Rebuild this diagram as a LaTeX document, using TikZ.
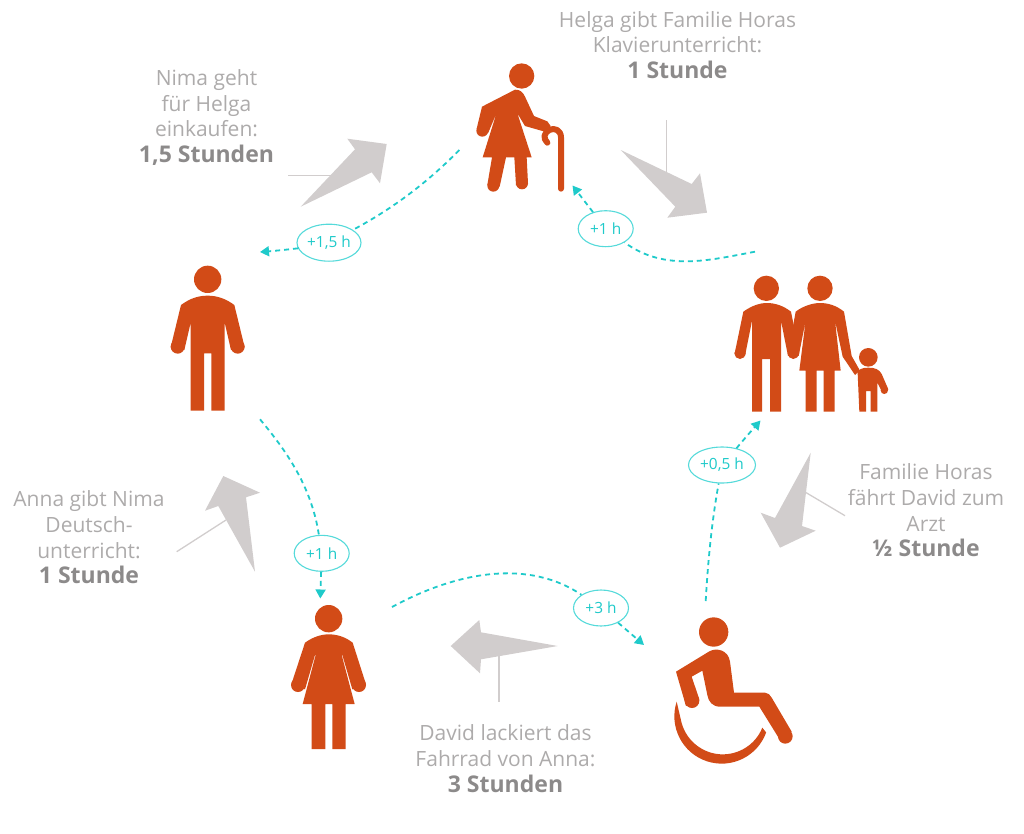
\documentclass[tikz,border=0pt]{standalone}
\usepackage{fontspec}
\setmainfont{Open Sans}
\definecolor{figc}{HTML}{D24B17}
\definecolor{teal}{HTML}{1FCACA}
\definecolor{teall}{HTML}{55DADA}
\definecolor{arrowg}{HTML}{D1CDCD}
\definecolor{txtg}{HTML}{ADABAB}
\definecolor{txtb}{HTML}{8C8A8A}
\usetikzlibrary{shapes.geometric,arrows.meta}
\tikzset{
 figf/.style={fill=figc,draw=none},
 fatarrow/.style={fill=arrowg,draw=none},
 leader/.style={draw=arrowg,line width=1.3pt},
 flow/.style={draw=teal,line width=1.8pt,dash pattern=on 5pt off 4pt},
 flowtip/.style={flow,-{Triangle[length=9pt,width=10pt,fill=teal]}},
 hbubble/.style={ellipse,draw=teall,line width=1.1pt,fill=white,inner sep=0pt,text=teal,font=\fontsize{15.4}{15.4}\selectfont},
 say/.style={align=center,text=txtg,font=\fontsize{21}{25.7}\selectfont,inner sep=0pt},
}
\newcommand{\bfline}[1]{{\fontsize{23}{25.7}\selectfont\bfseries\color{txtb}#1}}
\begin{document}
\begin{tikzpicture}[x=1pt,y=-1pt]
\useasboundingbox (0,0) rectangle (1024,833);
% ---- leaders
\coordinate (l1a) at (288,175.7); \coordinate (l1b) at (332,175.7);
\coordinate (l2a) at (666.3,120); \coordinate (l2b) at (666.3,172);
\coordinate (l3a) at (845,515.7); \coordinate (l3b) at (805,492);
\coordinate (l4a) at (499,701.7); \coordinate (l4b) at (499,656);
\coordinate (l5a) at (176.7,551.7); \coordinate (l5b) at (226,520);
\draw[leader] (l1a)--(l1b); \draw[leader] (l2a)--(l2b); \draw[leader] (l3a)--(l3b);
\draw[leader] (l4a)--(l4b); \draw[leader] (l5a)--(l5b);
% ---- fat arrows
\fill[fatarrow] (300.7,206.7)--(371.7,172.3)--(380,183.3)--(386.7,144)--(347.3,138.7)--(355,149.3)--cycle;
\fill[fatarrow] (620.7,150)--(691.7,184)--(700,173.3)--(707,212.7)--(667.3,217.7)--(675.3,206.7)--cycle;
\fill[fatarrow] (810.7,452.7)--(802,526)--(815.7,530.7)--(780,547.7)--(760.7,512.7)--(775,518)--cycle;
\fill[fatarrow] (557.7,646)--(481,659.3)--(480,673.3)--(450.7,646)--(479.3,620)--(481,632.3)--cycle;
\fill[fatarrow] (255,571.7)--(246,497.3)--(260,492.7)--(223.3,476)--(205,510.7)--(218.3,506)--cycle;
% ---- man (Nima)
\begin{scope}[shift={(150,250)},scale=1/3]
\fill[figf] (173,88) circle (41);
\fill[figf] (93,165) .. controls (120,145) and (145,137) .. (173,137) .. controls (200,137) and (226,145) .. (253,165)
  -- (284,292) -- (243,300) -- (224,218) -- (224,482) -- (184,482) -- (184,310) -- (162,310) -- (162,482) -- (122,482) -- (122,218) -- (103,300) -- (62,292) -- cycle;
\fill[figf] (263,290) circle (21); \fill[figf] (83,290) circle (21);
\end{scope}
% ---- woman (Anna)
\begin{scope}[shift={(150,250)},scale=1/3]
\fill[figf] (536,1106) circle (41);
\fill[figf] (465,1178) .. controls (490,1160) and (515,1153) .. (536,1153) .. controls (560,1153) and (585,1160) .. (608,1178)
  -- (648,1303) -- (607,1318) -- (577,1215) -- (575,1215) -- (614,1362) -- (587,1362) -- (587,1497) -- (547,1497) -- (547,1362) -- (526,1362) -- (526,1497) -- (485,1497) -- (485,1362) -- (458,1362) -- (497,1215) -- (495,1215) -- (465,1318) -- (424,1303) -- cycle;
\fill[figf] (627,1305) circle (21); \fill[figf] (444,1305) circle (21);
\end{scope}
% ---- elder (Helga)
\begin{scope}[shift={(270,50)},scale=1/3]
\fill[figf] (755,78) circle (38);
\fill[figf] (735,119) .. controls (750,119) and (758,125) .. (765,140) -- (792,198) -- (832,214) -- (842,228) -- (835,248) -- (765,228) -- (742,190) -- (785,322) -- (770,322) -- (774,400) -- (738,406) -- (733,322) -- (708,322) -- (689,410) -- (652,405) -- (666,322) -- (638,322) -- (680,188) -- (655,248) -- (620,236) -- (636,170) -- cycle;
\fill[figf] (637,242) circle (18); \fill[figf] (670,407) circle (18); \fill[figf] (756,400) circle (18);
\draw[draw=figc,line width=6pt,line cap=round,line join=round] (873,416) -- (873,262) .. controls (873,240) and (852,232) .. (838,240) .. controls (822,248) and (818,265) .. (832,278);
\end{scope}
% ---- family
\begin{scope}[shift={(560,110)},scale=1/3]
\fill[figf] (619,535) circle (38); \fill[figf] (780,535) circle (38); \fill[figf] (925,742) circle (28);
\fill[figf] (550,605) .. controls (575,587) and (600,579) .. (620,579) .. controls (645,579) and (670,587) .. (693,605)
 -- (718,730) -- (684,738) -- (663,632) -- (663,905) -- (630,905) -- (630,747) -- (606,747) -- (606,905) -- (576,905) -- (576,632) -- (555,738) -- (524,730) -- cycle;
\fill[figf] (540,730) circle (17); \fill[figf] (700,730) circle (17);
\fill[figf] (707,605) .. controls (730,587) and (760,579) .. (780,579) .. controls (805,579) and (830,587) .. (852,605)
 -- (875,738) -- (900,782) -- (885,795) -- (848,740) -- (825,632) -- (842,782) -- (824,782) -- (824,905) -- (791,905) -- (791,782) -- (770,782) -- (770,905) -- (737,905) -- (737,782) -- (718,782) -- (737,632) -- (716,738) -- (684,730) -- cycle;
\fill[figf] (893,790) .. controls (895,778) and (905,773) .. (925,773) .. controls (945,773) and (958,778) .. (965,792) -- (985,838) -- (968,850) -- (952,818) -- (952,905) -- (932,905) -- (932,843) -- (918,843) -- (918,905) -- (898,905) -- cycle;
\fill[figf] (973,841) circle (11);
\end{scope}
% ---- wheelchair (David)
\begin{scope}[shift={(620,430)},scale=1/3]
\fill[figf] (281,606) circle (44);
\fill[figf] (168,725) -- (268,664) .. controls (290,652) and (325,660) .. (330,695) -- (342,788) -- (435,788) .. controls (445,788) and (450,795) .. (455,803) -- (515,905) -- (480,930) -- (418,830) -- (300,830) .. controls (278,830) and (265,815) .. (262,795) -- (247,722) -- (215,740) -- (238,808) -- (198,828) -- cycle;
\fill[figf] (216,812) circle (22); \fill[figf] (496,919) circle (22);
\fill[figf] (170,815) arc[start angle=198,end angle=20,radius=142] -- (427,893) arc[start angle=22,end angle=165,radius=128] -- cycle;
\end{scope}
% ---- bubbles
\node[hbubble,minimum width=64pt,minimum height=37pt] (h1) at (329,242.7) {+1,5 h};
\node[hbubble,minimum width=55pt,minimum height=36pt] (h2) at (605.7,228.7) {+1 h};
\node[hbubble,minimum width=67pt,minimum height=36pt] (h3) at (722,465) {+0,5 h};
\node[hbubble,minimum width=55pt,minimum height=36pt] (h4) at (601,608) {+3 h};
\node[hbubble,minimum width=55pt,minimum height=36pt] (h5) at (321.7,553.3) {+1 h};
% ---- flows
\coordinate (s1) at (459.3,150); \coordinate (e1) at (260,252);
\coordinate (s2) at (755,251.7); \coordinate (e2) at (572.5,185.5);
\coordinate (s3) at (705.7,601); \coordinate (e3) at (760.5,420.5);
\coordinate (s4) at (392,607); \coordinate (e4) at (644,645);
\coordinate (s5) at (260,419.3); \coordinate (e5) at (320.3,598.5);
\draw[flow] (s1) .. controls (425,185) and (390,210) .. (h1);
\draw[flowtip] (h1) .. controls (300,248) and (285,250) .. (e1);
\draw[flow] (s2) .. controls (710,260) and (665,272) .. (h2);
\draw[flowtip] (h2) -- (e2);
\draw[flow] (s3) .. controls (708,560) and (712,520) .. (h3);
\draw[flowtip] (h3) .. controls (735,450) and (745,438) .. (e3);
\draw[flow] (s4) .. controls (460,570) and (530,560) .. (h4);
\draw[flowtip] (h4) -- (e4);
\draw[flow] (s5) .. controls (290,455) and (312,490) .. (h5);
\draw[flowtip] (h5) -- (e5);
% ---- texts
\node[say] (t1) at (206.5,117.5) {Nima geht\\für Helga\\einkaufen:\\\bfline{1,5 Stunden}};
\node[say] (t2) at (677.5,45) {Helga gibt Familie Horas\\Klavierunterricht:\\\bfline{1 Stunde}};
\node[say] (t3) at (926,510.5) {Familie Horas\\fährt David zum\\Arzt\\\bfline{½ Stunde}};
\node[say] (t4) at (505.5,758.5) {David lackiert das\\Fahrrad von Anna:\\\bfline{3 Stunden}};
\node[say] (t5) at (89,537.5) {Anna gibt Nima\\Deutsch-\\unterricht:\\\bfline{1 Stunde}};
\end{tikzpicture}
\end{document}
